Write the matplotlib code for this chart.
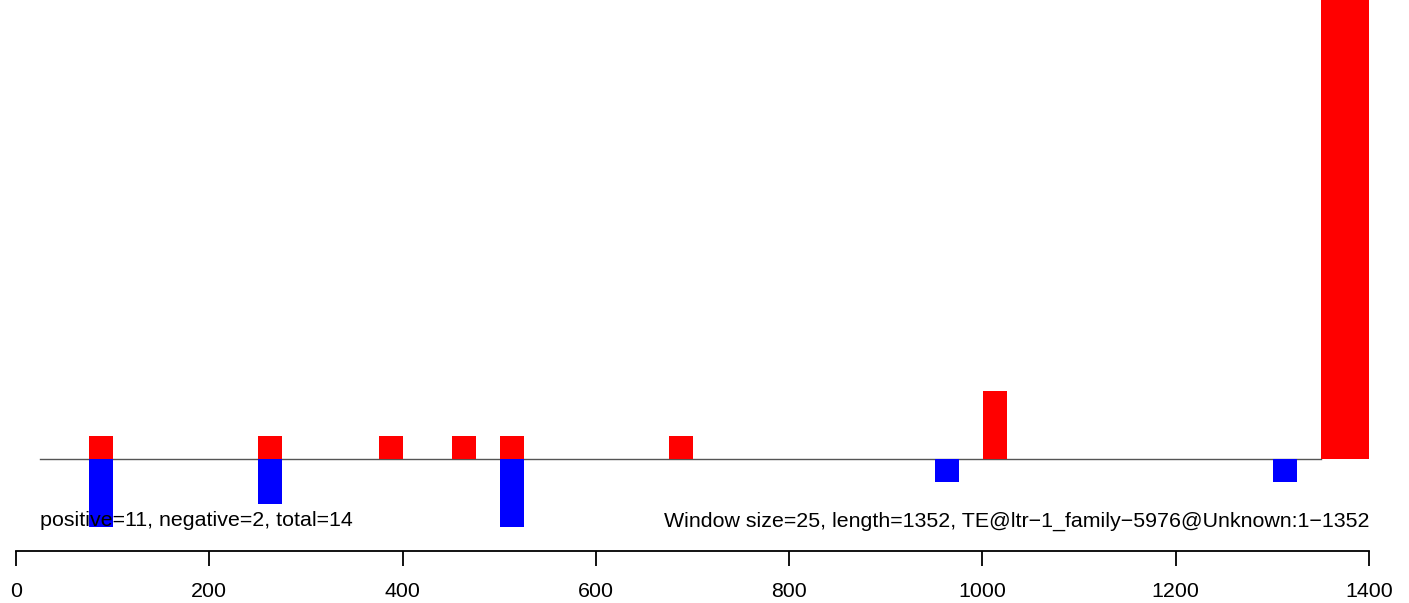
import matplotlib
matplotlib.use("Agg")
import matplotlib.pyplot as plt
import numpy as np

plt.rcParams['font.family'] = ['Liberation Sans', 'DejaVu Sans']

# window starts (bin size 25) and counts
pos_start = [75, 250, 375, 450, 500, 675, 1000, 1350]
pos_count = [1, 1, 1, 1, 1, 1, 3, 25]
neg_start = [75, 250, 500, 950, 1300]
neg_count = [3, 2, 3, 1, 1]
win = 25
seq_len = 1352
xticks = [0, 200, 400, 600, 800, 1000, 1200, 1400]
left_text = "positive=11, negative=2, total=14"
right_text = "Window size=25, length=1352, TE@ltr\u22121_family\u22125976@Unknown:1\u22121352"

W, H = 1409, 603
fig = plt.figure(figsize=(W / 100, H / 100), dpi=100)
ax = fig.add_axes([16 / W, 0, (1369 - 16) / W, 1])

px_unit = 22.6
ax.set_xlim(0, 1400)
ax.set_ylim(-(H - 459) / px_unit, 459 / px_unit)

widths = [win if s < 1350 else 50 for s in pos_start]
ax.bar(np.array(pos_start) + 0.7, pos_count, width=widths, align='edge', color='#ff0000', zorder=3)
ax.bar(np.array(neg_start) + 0.7, [-c for c in neg_count], width=win, align='edge', color='#0000ff', zorder=3)
ax.plot([win, 1350], [0, 0], color='#555555', lw=1, zorder=2)

ty = (459 - 521) / px_unit
fs = 15.4
ax.text(win, ty, left_text, ha='left', va='center', fontsize=fs, zorder=4)
ax.text(1400, ty, right_text, ha='right', va='center', fontsize=fs, zorder=4)

for s in ['top', 'right', 'left']:
    ax.spines[s].set_visible(False)
ax.spines['bottom'].set_position(('data', (459 - 551) / px_unit))
ax.spines['bottom'].set_linewidth(1.3)
ax.set_yticks([])
ax.set_xticks(xticks)
ax.tick_params(axis='x', direction='out', length=10.5, width=1.3, pad=11.5, labelsize=fs)

fig.savefig("out.png", dpi=100)
